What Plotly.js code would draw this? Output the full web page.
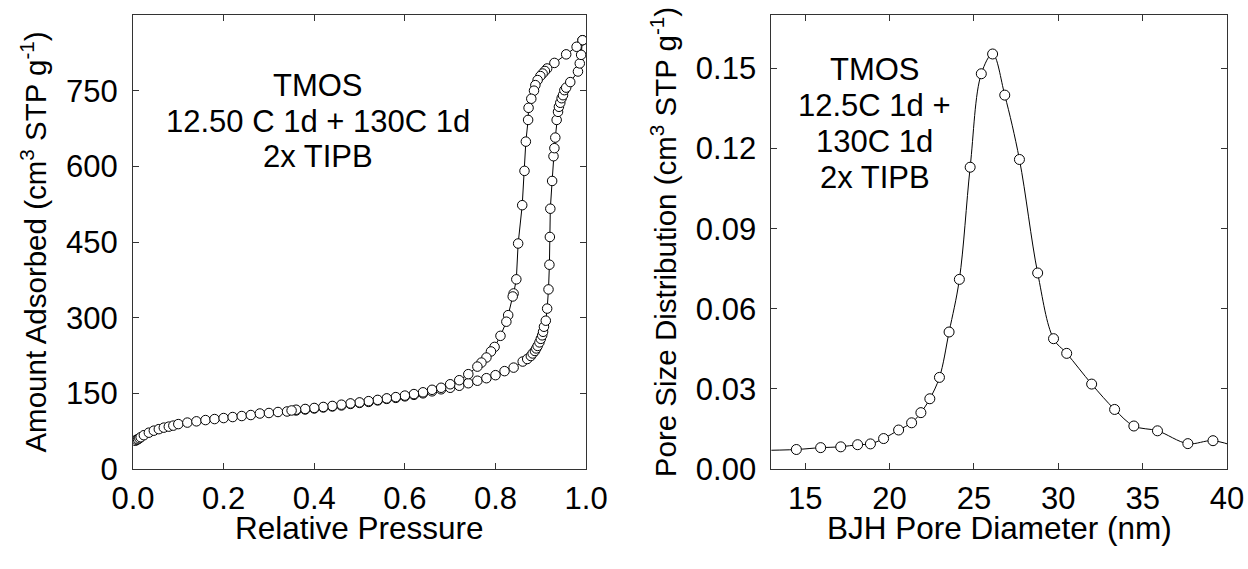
<!DOCTYPE html>
<html>
<head>
<meta charset="utf-8">
<script src="https://cdn.plot.ly/plotly-3.0.1.min.js"></script>
<style>html,body{margin:0;padding:0;background:#fff;}#chart{width:1248px;height:569px;}</style>
</head>
<body>
<div id="chart"></div>
<script>
// Isotherm: adsorption branch (relative pressure, amount adsorbed)
const adsP = [0.005,0.008,0.011,0.014,0.017,0.024,0.035,0.046,0.057,0.068,0.079,0.089,0.10,0.12,0.14,0.16,0.18,0.20,0.22,0.24,0.26,0.28,0.30,0.32,0.34,0.36,0.38,0.40,0.42,0.44,0.46,0.48,0.50,0.52,0.54,0.56,0.58,0.60,0.62,0.64,0.66,0.68,0.70,0.72,0.74,0.76,0.78,0.80,0.82,0.84,0.86,0.870,0.878,0.882,0.887,0.890,0.893,0.897,0.900,0.903,0.905,0.907,0.911,0.914,0.917,0.919,0.920,0.921,0.925,0.928,0.930,0.932,0.935,0.938,0.940,0.943,0.946,0.949,0.952,0.956,0.965,0.982,0.986,0.989,0.992];
const adsV = [56,58,59,61,63,67,72,76,79,82,84,86,89,92,94.5,97,99,101,103,105,107,110,111,113,114,116,118,120,122,124,126,129,131,133,136,139,141,144,147,150,154,158,161,165,170,175,180,186,194,201,213,218,224,229,234,239,244,251,258,265,272,282,294,318,356,405,460,516,571,620,636,657,692,708,718,726,735,741,751,756,767,788,804,821,850];
// Isotherm: desorption branch
const desP = [0.992,0.979,0.956,0.930,0.914,0.909,0.904,0.899,0.893,0.888,0.885,0.879,0.873,0.872,0.867,0.864,0.859,0.850,0.846,0.840,0.838,0.828,0.824,0.811,0.798,0.790,0.780,0.769,0.760,0.740,0.720,0.700,0.680,0.660,0.640,0.620,0.600,0.580,0.560,0.540,0.520,0.500,0.480,0.460,0.440,0.420,0.400,0.380,0.360,0.350];
const desV = [850,837,822,805,794,789,784,779,771,761,750,734,716,692,649,591,523,447,376,348,342,305,292,264,242,233,221,211,203,188,176,168,161,157,152,148.5,145.5,142.5,140,137,134.5,132,130,127.5,125,123,121,119,117.5,116];
// BJH pore size distribution
const poreD = [12.0,14.48,15.92,17.11,18.11,18.87,19.65,20.54,21.31,21.86,22.39,22.96,23.53,24.14,24.78,25.44,26.11,26.83,27.70,28.78,29.72,30.50,31.98,33.34,34.48,35.88,37.68,39.17,40.8];
const poreV = [0.0069,0.0073,0.0080,0.0083,0.0091,0.0094,0.0114,0.0146,0.0173,0.0211,0.0263,0.0343,0.0513,0.0710,0.1130,0.1480,0.1554,0.1400,0.1159,0.0734,0.0488,0.0433,0.0318,0.0223,0.0161,0.0143,0.0095,0.0106,0.0077];
// Axis ticks
const leftXTicks = [0.0,0.2,0.4,0.6,0.8,1.0];
const leftYTicks = [0,150,300,450,600,750];
const rightXTicks = [15,20,25,30,35,40];
const rightYTicks = [0.00,0.03,0.06,0.09,0.12,0.15];
const leftNote = ["TMOS","12.50 C 1d + 130C 1d","2x TIPB"];
const rightNote = ["TMOS","12.5C 1d +","130C 1d","2x TIPB"];
const xTitles = ["Relative Pressure","BJH Pore Diameter (nm)"];

const FONT = "Liberation Sans, Arial, Helvetica, sans-serif";
const marker = {symbol:"circle", size:9.5, color:"#ffffff", line:{color:"#000000", width:1}};

const traces = [
  {x:adsP, y:adsV, xaxis:"x", yaxis:"y", type:"scatter", mode:"lines+markers",
   line:{color:"#000000", width:1}, marker:marker, name:"Adsorption"},
  {x:desP, y:desV, xaxis:"x", yaxis:"y", type:"scatter", mode:"lines+markers",
   line:{color:"#000000", width:1}, marker:marker, name:"Desorption"},
  {x:poreD, y:poreV, xaxis:"x2", yaxis:"y2", type:"scatter", mode:"lines+markers",
   line:{color:"#000000", width:1, shape:"spline", smoothing:1},
   marker:Object.assign({}, marker, {size:10}), name:"PSD"}
];

function axisBase(){
  return {showline:true, linecolor:"#333333", linewidth:1, mirror:"ticks",
    ticks:"inside", ticklen:6, tickwidth:1, tickcolor:"#333333",
    showgrid:false, zeroline:false, tickfont:{family:FONT, size:31, color:"#000"}};
}
const YTF = {family:FONT, size:29.5, color:"#000"};

const xa = Object.assign(axisBase(), {domain:[0,0.41418], range:[0,1], tickmode:"array",
  tickvals:leftXTicks, ticktext:leftXTicks.map(v=>v.toFixed(1)), anchor:"y", ticklabelstandoff:2});
const ya = Object.assign(axisBase(), {domain:[0,1], range:[0,900], tickmode:"array",
  tickvals:leftYTicks, ticktext:leftYTicks.map(String), anchor:"x", ticklabelstandoff:8,
  title:{text:"Amount Adsorbed (cm<sup>3</sup> STP g<sup>-1</sup>)", font:YTF, standoff:10}});
const xa2 = Object.assign(axisBase(), {domain:[0.58353,1], range:[13,40], tickmode:"array",
  tickvals:rightXTicks, ticktext:rightXTicks.map(String), anchor:"y2", ticklabelstandoff:2});
const ya2 = Object.assign(axisBase(), {domain:[0,1], range:[0,0.17], tickmode:"array",
  tickvals:rightYTicks, ticktext:rightYTicks.map(v=>v.toFixed(2)), anchor:"x2", ticklabelstandoff:8,
  title:{text:"Pore Size Distribution (cm<sup>3</sup> STP g<sup>-1</sup>)", font:YTF, standoff:10}});

const annotations = [];
const leftY = [761, 688.5, 619];
leftNote.forEach((t,i)=>annotations.push({xref:"x", yref:"y", x:0.408, y:leftY[i], text:t,
  showarrow:false, xanchor:"center", yanchor:"middle", font:{family:FONT,size:31,color:"#000"}}));
const rightY = [0.1496, 0.1361, 0.1227, 0.1090];
rightNote.forEach((t,i)=>annotations.push({xref:"x2", yref:"y2", x:19.14, y:rightY[i], text:t,
  showarrow:false, xanchor:"center", yanchor:"middle", font:{family:FONT,size:31,color:"#000"}}));
// x-axis titles, placed just under the tick labels
annotations.push({xref:"x domain", yref:"y domain", x:0.5, y:-0.129, text:xTitles[0],
  showarrow:false, xanchor:"center", yanchor:"middle", font:{family:FONT,size:31.5,color:"#000"}});
annotations.push({xref:"x2 domain", yref:"y2 domain", x:0.5, y:-0.129, text:xTitles[1],
  showarrow:false, xanchor:"center", yanchor:"middle", font:{family:FONT,size:31.5,color:"#000"}});

const layout = {
  width:1248, height:569,
  margin:{l:132.5, r:21.3, t:15.3, b:100, autoexpand:false},
  paper_bgcolor:"#ffffff", plot_bgcolor:"#ffffff",
  showlegend:false,
  font:{family:FONT, size:30, color:"#000"},
  xaxis:xa, yaxis:ya, xaxis2:xa2, yaxis2:ya2,
  annotations:annotations
};

Plotly.newPlot("chart", traces, layout, {displayModeBar:false, staticPlot:true});
</script>
</body>
</html>
